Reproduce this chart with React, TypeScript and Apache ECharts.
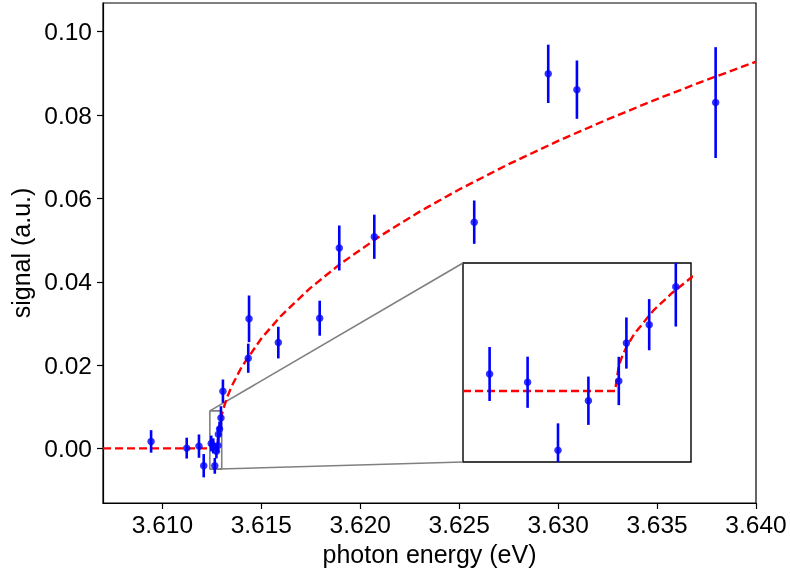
import React, { useEffect, useRef } from "react";
import * as echarts from "echarts";

// measured data points (photon energy in eV, signal in a.u., error half-length)
const energy = [3.60943, 3.61123, 3.61185, 3.61209, 3.61247, 3.61257, 3.61265, 3.61273, 3.61281, 3.61283, 3.61289, 3.61296, 3.61306, 3.61434, 3.61438, 3.61586, 3.61795, 3.61894, 3.62071, 3.62576, 3.6295, 3.63095, 3.63796];
const signal = [0.00168, 0.00007, 0.00055, -0.00415, 0.00119, 0.00061, -0.00418, -0.00069, 0.0007, 0.00337, 0.00466, 0.00733, 0.01374, 0.02165, 0.0311, 0.0254, 0.03125, 0.0481, 0.0508, 0.0543, 0.0899, 0.0861, 0.083];
const errors = [0.0027, 0.0025, 0.0028, 0.0028, 0.0019, 0.0018, 0.0019, 0.0017, 0.0017, 0.0018, 0.0018, 0.0028, 0.0028, 0.0035, 0.0056, 0.0038, 0.0042, 0.0054, 0.0053, 0.0052, 0.007, 0.007, 0.0133];

// fitted curve
const fitX = [3.607, 3.6128, 3.61281, 3.61282, 3.61283, 3.61285, 3.6129, 3.61295, 3.613, 3.6131, 3.6133, 3.6135, 3.614, 3.615, 3.616, 3.6175, 3.619, 3.621, 3.623, 3.625, 3.6275, 3.63, 3.6325, 3.635, 3.6375, 3.64];
const fitY = [0, 0, 0.00178, 0.00252, 0.00308, 0.00398, 0.00563, 0.00689, 0.00796, 0.00975, 0.01258, 0.01489, 0.01949, 0.02639, 0.03183, 0.03858, 0.04431, 0.05095, 0.05683, 0.06215, 0.06822, 0.0738, 0.07898, 0.08384, 0.08844, 0.0928];

// axis ranges and ticks
const xRange = [3.607, 3.64];
const yRange = [-0.0131, 0.1069];
const xTicks = [3.61, 3.615, 3.62, 3.625, 3.63, 3.635, 3.64];
const yTicks = [0, 0.02, 0.04, 0.06, 0.08, 0.1];
const insetXRange = [3.6124, 3.613];
const insetYRange = [-0.005, 0.009];

const FONT = "'Liberation Sans', Arial, sans-serif";

export default function App() {
  const ref = useRef<HTMLDivElement>(null);
  useEffect(() => {
    if (!ref.current) return;
    const chart = echarts.init(ref.current, undefined, { renderer: "svg" });
    const points = energy.map((x, i) => [x, signal[i], errors[i]]);
    const fit = fitX.map((x, i) => [x, fitY[i]]);
    const rect = [
      [insetXRange[0], insetYRange[0]],
      [insetXRange[1], insetYRange[0]],
      [insetXRange[1], insetYRange[1]],
      [insetXRange[0], insetYRange[1]],
      [insetXRange[0], insetYRange[0]],
    ];
    const errRender = (params: any, api: any) => {
      const x = api.value(0);
      const y = api.value(1);
      const e = api.value(2);
      const a = api.coord([x, y - e]);
      const b = api.coord([x, y + e]);
      return {
        type: "line",
        shape: { x1: a[0], y1: a[1], x2: b[0], y2: b[1] },
        style: { stroke: "#0000ff", lineWidth: 2.6 },
      };
    };
    const seriesFor = (idx: number) => [
      {
        type: "line",
        xAxisIndex: idx,
        yAxisIndex: idx,
        data: fit,
        showSymbol: false,
        symbol: "none",
        clip: true,
        lineStyle: { color: "#ff0000", width: 2.4, type: [8, 4] },
        z: 3,
      },
      {
        type: "custom",
        xAxisIndex: idx,
        yAxisIndex: idx,
        data: points,
        renderItem: errRender,
        clip: true,
        encode: { x: 0, y: 1 },
        z: 4,
      },
      {
        type: "scatter",
        xAxisIndex: idx,
        yAxisIndex: idx,
        data: points.map((p) => [p[0], p[1]]),
        symbol: "circle",
        symbolSize: 7.5,
        clip: true,
        itemStyle: { color: "#0000ff" },
        z: 5,
      },
    ];
    chart.setOption({
      animation: false,
      textStyle: { fontFamily: FONT },
      grid: [
        {
          left: 103,
          top: 3,
          width: 653,
          height: 500,
          show: true,
          borderColor: "#000",
          borderWidth: 1.2,
          backgroundColor: "transparent",
        },
        {
          left: 463,
          top: 263,
          width: 228,
          height: 199,
          show: true,
          borderColor: "#000",
          borderWidth: 1.4,
          backgroundColor: "transparent",
        },
      ],
      xAxis: [
        {
          type: "value",
          gridIndex: 0,
          min: xRange[0],
          max: xRange[1],
          name: "photon energy (eV)",
          nameLocation: "middle",
          nameGap: 38,
          nameTextStyle: { fontSize: 25, color: "#000", fontFamily: FONT },
          axisLine: { show: true, onZero: false, lineStyle: { color: "#000", width: 1.2 } },
          axisTick: { show: true, inside: false, length: 6, customValues: xTicks, lineStyle: { color: "#000", width: 1.2 } },
          axisLabel: {
            customValues: xTicks,
            margin: 9,
            fontSize: 24.5,
            color: "#000",
            fontFamily: FONT,
            formatter: (v: number) => v.toFixed(3),
          },
          splitLine: { show: false },
        },
        {
          type: "value",
          gridIndex: 1,
          min: insetXRange[0],
          max: insetXRange[1],
          axisLine: { show: false, onZero: false },
          axisTick: { show: false },
          axisLabel: { show: false },
          splitLine: { show: false },
        },
      ],
      yAxis: [
        {
          type: "value",
          gridIndex: 0,
          min: yRange[0],
          max: yRange[1],
          name: "signal (a.u.)",
          nameLocation: "middle",
          nameGap: 67,
          nameTextStyle: { fontSize: 25, color: "#000", fontFamily: FONT },
          axisLine: { show: true, onZero: false, lineStyle: { color: "#000", width: 1.2 } },
          axisTick: { show: true, inside: false, length: 6, customValues: yTicks, lineStyle: { color: "#000", width: 1.2 } },
          axisLabel: {
            customValues: yTicks,
            margin: 11,
            fontSize: 24.5,
            color: "#000",
            fontFamily: FONT,
            formatter: (v: number) => v.toFixed(2),
          },
          splitLine: { show: false },
        },
        {
          type: "value",
          gridIndex: 1,
          min: insetYRange[0],
          max: insetYRange[1],
          axisLine: { show: false, onZero: false },
          axisTick: { show: false },
          axisLabel: { show: false },
          splitLine: { show: false },
        },
      ],
      series: [
        {
          type: "line",
          xAxisIndex: 0,
          yAxisIndex: 0,
          data: rect,
          showSymbol: false,
          symbol: "none",
          clip: false,
          lineStyle: { color: "#808080", width: 1.6 },
          z: 2,
        },
        ...seriesFor(0),
        ...seriesFor(1),
      ],
    });
    const rTop = chart.convertToPixel({ gridIndex: 0 } as any, [insetXRange[0], insetYRange[1]]) as number[];
    const rBot = chart.convertToPixel({ gridIndex: 0 } as any, [insetXRange[0], insetYRange[0]]) as number[];
    const iTop = chart.convertToPixel({ gridIndex: 1 } as any, [insetXRange[0], insetYRange[1]]) as number[];
    const iBot = chart.convertToPixel({ gridIndex: 1 } as any, [insetXRange[0], insetYRange[0]]) as number[];
    chart.setOption({
      graphic: [
        {
          type: "line",
          shape: { x1: rTop[0], y1: rTop[1], x2: iTop[0], y2: iTop[1] },
          style: { stroke: "#808080", lineWidth: 1.6 },
          z: 1,
        },
        {
          type: "line",
          shape: { x1: rBot[0], y1: rBot[1], x2: iBot[0], y2: iBot[1] },
          style: { stroke: "#808080", lineWidth: 1.6 },
          z: 1,
        },
      ],
    });
    return () => chart.dispose();
  }, []);
  return <div ref={ref} style={{ position: "fixed", left: 0, top: 0, width: 790, height: 575 }} />;
}
